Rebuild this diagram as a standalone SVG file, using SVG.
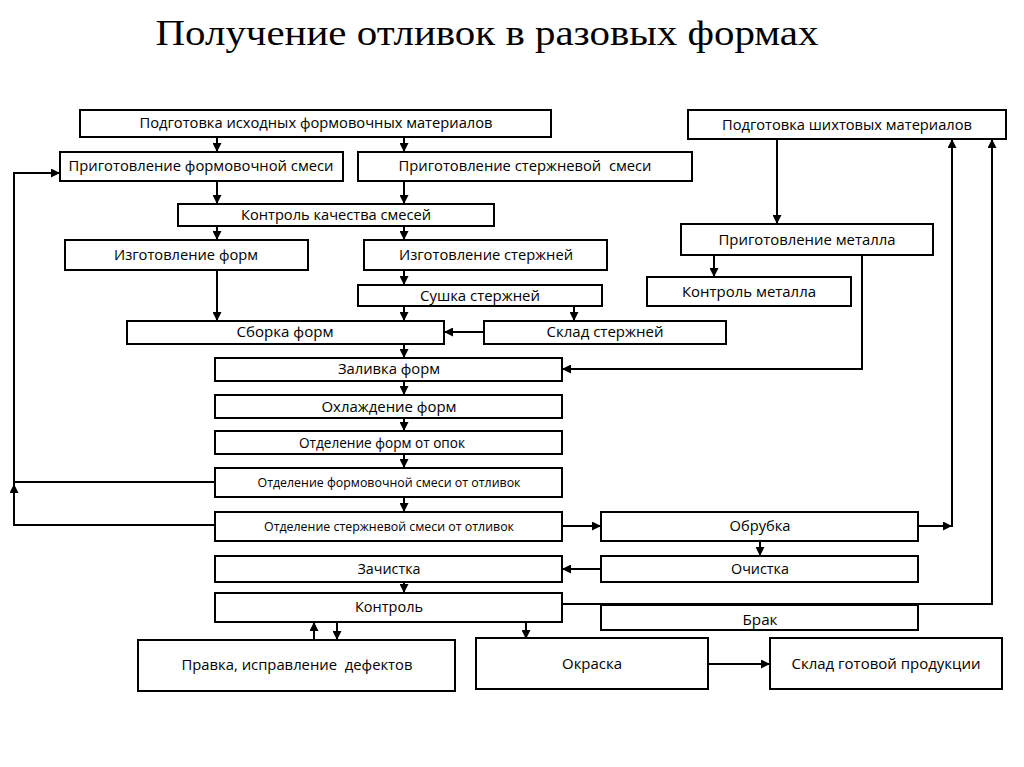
<svg xmlns="http://www.w3.org/2000/svg" width="1024" height="767" viewBox="0 0 1024 767">
<style>
.b{fill:#fff;stroke:#000;stroke-width:2}
.t{font-family:"Open Sans","Liberation Sans",sans-serif;font-size:14px;fill:#000;text-anchor:middle}
.s{font-size:12.5px}
.c{fill:none;stroke:#000;stroke-width:2}
.title{font-family:"Liberation Serif","DejaVu Serif",serif;font-size:35px;fill:#000;text-anchor:middle}
</style>
<defs>
<marker id="a" viewBox="0 0 10 10" refX="10" refY="5" markerUnits="userSpaceOnUse" markerWidth="9" markerHeight="9" orient="auto"><path d="M0,0L10,5L0,10z" fill="#000"/></marker>
</defs>
<rect width="1024" height="767" fill="#fff"/>
<text class="title" x="487" y="45" textLength="663" lengthAdjust="spacingAndGlyphs">Получение отливок в разовых формах</text>
<g id="connectors">
<path class="c" marker-end="url(#a)" d="M217,137V152"/>
<path class="c" marker-end="url(#a)" d="M404,137V152"/>
<path class="c" marker-end="url(#a)" d="M217,181V204"/>
<path class="c" marker-end="url(#a)" d="M404,181V204"/>
<path class="c" marker-end="url(#a)" d="M217,226V240"/>
<path class="c" marker-end="url(#a)" d="M404,226V240"/>
<path class="c" marker-end="url(#a)" d="M217,270V321"/>
<path class="c" marker-end="url(#a)" d="M404,270V285"/>
<path class="c" marker-end="url(#a)" d="M404,306V321"/>
<path class="c" marker-end="url(#a)" d="M574,306V321"/>
<path class="c" marker-end="url(#a)" d="M484,332H444"/>
<path class="c" marker-end="url(#a)" d="M404,344V358"/>
<path class="c" marker-end="url(#a)" d="M404,381V395"/>
<path class="c" marker-end="url(#a)" d="M404,418V431"/>
<path class="c" marker-end="url(#a)" d="M404,454V468"/>
<path class="c" marker-end="url(#a)" d="M404,497V512"/>
<path class="c" marker-end="url(#a)" d="M215,525H14V173H60"/>
<path class="c" d="M215,482H14"/>
<path class="c" marker-end="url(#a)" d="M14,500V484"/>
<path class="c" marker-end="url(#a)" d="M562,526H601"/>
<path class="c" marker-end="url(#a)" d="M918,526H952"/>
<path class="c" marker-end="url(#a)" d="M952,527V139"/>
<path class="c" marker-end="url(#a)" d="M760,541V556"/>
<path class="c" marker-end="url(#a)" d="M601,569H562"/>
<path class="c" marker-end="url(#a)" d="M404,582V593"/>
<path class="c" marker-end="url(#a)" d="M562,604H992V139"/>
<path class="c" marker-end="url(#a)" d="M314,640V622"/>
<path class="c" marker-end="url(#a)" d="M337,622V640"/>
<path class="c" marker-end="url(#a)" d="M526,622V639"/>
<path class="c" marker-end="url(#a)" d="M708,664H770"/>
<path class="c" marker-end="url(#a)" d="M777,139V224"/>
<path class="c" marker-end="url(#a)" d="M714,255V277"/>
<path class="c" marker-end="url(#a)" d="M862,255V369H562"/>
</g>
<g id="n1"><rect class="b" x="80" y="110" width="471" height="27"/><text class="t" x="316" y="128" textLength="353" lengthAdjust="spacingAndGlyphs">Подготовка исходных формовочных материалов</text></g>
<g id="n2"><rect class="b" x="60" y="152" width="283" height="29"/><text class="t" x="201" y="171" textLength="265" lengthAdjust="spacingAndGlyphs">Приготовление формовочной смеси</text></g>
<g id="n3"><rect class="b" x="358" y="152" width="334" height="29"/><text class="t" x="525" y="171" textLength="253" lengthAdjust="spacingAndGlyphs" xml:space="preserve">Приготовление стержневой  смеси</text></g>
<g id="n4"><rect class="b" x="178" y="204" width="316" height="22"/><text class="t" x="336" y="220" textLength="190" lengthAdjust="spacingAndGlyphs">Контроль качества смесей</text></g>
<g id="n5"><rect class="b" x="65" y="240" width="243" height="30"/><text class="t" x="186" y="260" textLength="144" lengthAdjust="spacingAndGlyphs">Изготовление форм</text></g>
<g id="n6"><rect class="b" x="364" y="240" width="243" height="30"/><text class="t" x="486" y="260" textLength="174" lengthAdjust="spacingAndGlyphs">Изготовление стержней</text></g>
<g id="n7"><rect class="b" x="358" y="285" width="244" height="21"/><text class="t" x="480" y="301" textLength="120" lengthAdjust="spacingAndGlyphs">Сушка стержней</text></g>
<g id="n8"><rect class="b" x="127" y="321" width="317" height="23"/><text class="t" x="285" y="337" textLength="97" lengthAdjust="spacingAndGlyphs">Сборка форм</text></g>
<g id="n9"><rect class="b" x="484" y="321" width="242" height="23"/><text class="t" x="605" y="337" textLength="117" lengthAdjust="spacingAndGlyphs">Склад стержней</text></g>
<g id="n10"><rect class="b" x="215" y="358" width="347" height="23"/><text class="t" x="389" y="374" textLength="102" lengthAdjust="spacingAndGlyphs">Заливка форм</text></g>
<g id="n11"><rect class="b" x="215" y="395" width="347" height="23"/><text class="t" x="389" y="412" textLength="135" lengthAdjust="spacingAndGlyphs">Охлаждение форм</text></g>
<g id="n12"><rect class="b" x="215" y="431" width="347" height="23"/><text class="t" x="382" y="448" textLength="166" lengthAdjust="spacingAndGlyphs">Отделение форм от опок</text></g>
<g id="n13"><rect class="b" x="215" y="468" width="347" height="29"/><text class="t s" x="389" y="487" textLength="263" lengthAdjust="spacingAndGlyphs">Отделение формовочной смеси от отливок</text></g>
<g id="n14"><rect class="b" x="215" y="512" width="347" height="29"/><text class="t s" x="389" y="531" textLength="250" lengthAdjust="spacingAndGlyphs">Отделение стержневой смеси от отливок</text></g>
<g id="n15"><rect class="b" x="215" y="556" width="347" height="26"/><text class="t" x="389" y="574" textLength="63" lengthAdjust="spacingAndGlyphs">Зачистка</text></g>
<g id="n16"><rect class="b" x="215" y="593" width="347" height="29"/><text class="t" x="389" y="612" textLength="68" lengthAdjust="spacingAndGlyphs">Контроль</text></g>
<g id="n17"><rect class="b" x="138" y="640" width="317" height="51"/><text class="t" x="297" y="670" textLength="231" lengthAdjust="spacingAndGlyphs" xml:space="preserve">Правка, исправление  дефектов</text></g>
<g id="n18"><rect class="b" x="476" y="638" width="232" height="51"/><text class="t" x="592" y="669" textLength="60" lengthAdjust="spacingAndGlyphs">Окраска</text></g>
<g id="n19"><rect class="b" x="770" y="638" width="232" height="51"/><text class="t" x="886" y="669" textLength="189" lengthAdjust="spacingAndGlyphs">Склад готовой продукции</text></g>
<g id="n20"><rect class="b" x="688" y="110" width="318" height="29"/><text class="t" x="847" y="130" textLength="250" lengthAdjust="spacingAndGlyphs">Подготовка шихтовых материалов</text></g>
<g id="n21"><rect class="b" x="681" y="224" width="252" height="31"/><text class="t" x="807" y="245" textLength="177" lengthAdjust="spacingAndGlyphs">Приготовление металла</text></g>
<g id="n22"><rect class="b" x="647" y="277" width="204" height="29"/><text class="t" x="749" y="297" textLength="134" lengthAdjust="spacingAndGlyphs">Контроль металла</text></g>
<g id="n23"><rect class="b" x="601" y="512" width="317" height="29"/><text class="t" x="760" y="531" textLength="61" lengthAdjust="spacingAndGlyphs">Обрубка</text></g>
<g id="n24"><rect class="b" x="601" y="556" width="317" height="26"/><text class="t" x="760" y="574" textLength="58" lengthAdjust="spacingAndGlyphs">Очистка</text></g>
<g id="n25"><rect class="b" x="601" y="605" width="317" height="25"/><text class="t" x="760" y="625" textLength="35" lengthAdjust="spacingAndGlyphs">Брак</text></g>
</svg>
